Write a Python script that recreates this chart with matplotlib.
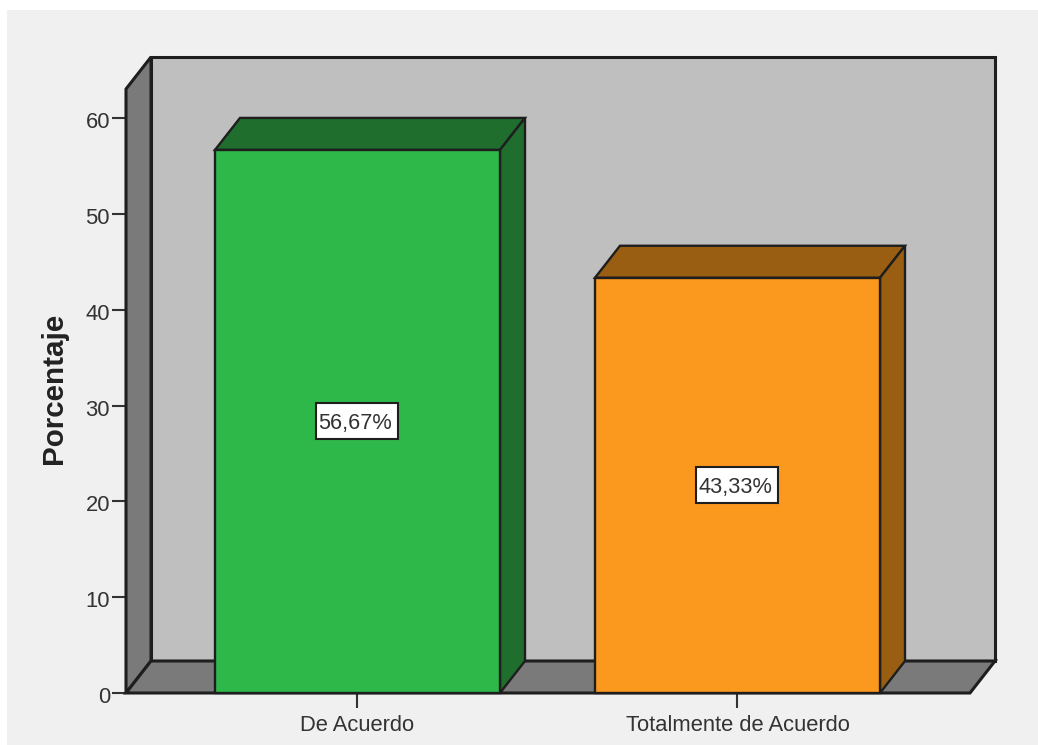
import matplotlib
matplotlib.use("Agg")
import matplotlib.pyplot as plt
from matplotlib.patches import Polygon, Rectangle
from matplotlib.transforms import ScaledTranslation

categories = ["De Acuerdo", "Totalmente de Acuerdo"]
values = [56.67, 43.33]
value_labels = ["56,67%", "43,33%"]
y_ticks = [0, 10, 20, 30, 40, 50, 60]

front_colors = ["#2EB84A", "#FB991F"]
side_colors = ["#1F6E2E", "#9A5E12"]
wall_color = "#BFBFBF"
shade_color = "#7A7A7A"
panel_color = "#F0F0F0"
line_color = "#1E1E1E"
text_color = "#333333"

plt.rcParams["font.family"] = "Liberation Sans"

W, H = 1038, 745
fig = plt.figure(figsize=(W / 100, H / 100), dpi=100, facecolor="white")
# panel goes below the axes
fig.add_artist(Rectangle((7 / W, 0), 1 - 7 / W, 735 / H, transform=fig.transFigure,
                         facecolor=panel_color, edgecolor="none", zorder=-1))

# axes = front plane of the 3d box, in pixels from the reference
ax = fig.add_axes([126 / W, (H - 693) / H, 844 / W, 604 / H])
ax.patch.set_alpha(0)
px_x = 380.0  # pixels per category
px_y = 575 / 60.0  # pixels per unit
xmin, xmax = -231.5 / px_x, 612.5 / px_x
ymax = 604 / px_y
ax.set_xlim(xmin, xmax)
ax.set_ylim(0, ymax)
dx, dy = 25 / px_x, 32 / px_y
bar_width = 285 / px_x
box_w, box_h = 82 / px_x, 36 / px_y
lw = 1.7


def poly(pts, color, z, width=lw):
    ax.add_patch(Polygon(pts, closed=True, facecolor=color, edgecolor=line_color,
                         linewidth=width, joinstyle="miter", zorder=z, clip_on=False))


# walls and floor
poly([(xmin + dx, dy), (xmax + dx, dy), (xmax + dx, ymax + dy), (xmin + dx, ymax + dy)], wall_color, 1, 2.2)
poly([(xmin, 0), (xmin + dx, dy), (xmin + dx, ymax + dy), (xmin, ymax)], shade_color, 2, 2.2)
poly([(xmin, 0), (xmax, 0), (xmax + dx, dy), (xmin + dx, dy)], shade_color, 2, 2.2)

# bars
for i, v in enumerate(values):
    l, r = i - bar_width / 2, i + bar_width / 2
    poly([(l, v), (r, v), (r + dx, v + dy), (l + dx, v + dy)], side_colors[i], 3)
    poly([(r, 0), (r + dx, dy), (r + dx, v + dy), (r, v)], side_colors[i], 3)
    poly([(l, 0), (r, 0), (r, v), (l, v)], front_colors[i], 4)
    ax.add_patch(Rectangle((i - box_w / 2, v / 2 - box_h / 2), box_w, box_h, facecolor="white",
                           edgecolor=line_color, linewidth=1.5, zorder=5))
    ax.text(i - 2 / px_x, v / 2, value_labels[i], ha="center", va="center_baseline", fontsize=15.7,
            color=text_color, zorder=6)

for s in ax.spines.values():
    s.set_visible(False)

ax.set_xticks(range(len(categories)))
ax.set_xticklabels(categories)
ax.set_yticks(y_ticks)
ax.tick_params(axis="x", length=11, width=1.5, color="#333333", pad=4.5,
               labelsize=15.8, labelcolor=text_color)
ax.tick_params(axis="y", length=10, width=1.5, color="#333333", pad=1.5,
               labelsize=15.8, labelcolor=text_color)
# y tick labels sit a little under their ticks
shift = ScaledTranslation(0, -2 / 100, fig.dpi_scale_trans)
for t in ax.get_yticklabels():
    t.set_transform(t.get_transform() + shift)

ax.set_ylabel("Porcentaje", fontsize=21.3, fontweight="bold", color="#222222")
ax.yaxis.set_label_coords(-58 / 844.0, (693 - 388) / 604.0)

fig.savefig("out.png", dpi=100, facecolor=fig.get_facecolor())
